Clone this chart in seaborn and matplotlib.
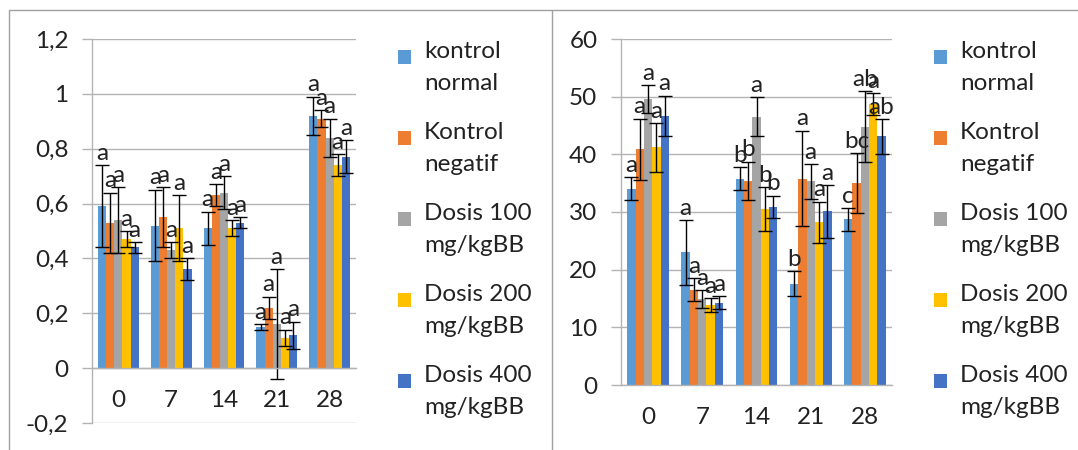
import numpy as np
import pandas as pd
import matplotlib
matplotlib.use("Agg")
import matplotlib.pyplot as plt
import seaborn as sns
from matplotlib.lines import Line2D
from matplotlib.patches import Rectangle
from matplotlib.legend_handler import HandlerPatch

# Data
days = ["0", "7", "14", "21", "28"]
groups = ["kontrol\nnormal", "Kontrol\nnegatif", "Dosis 100\nmg/kgBB",
          "Dosis 200\nmg/kgBB", "Dosis 400\nmg/kgBB"]
colors = ["#5B9BD5", "#ED7D31", "#A5A5A5", "#FFC000", "#4472C4"]

# left chart (mean, sd, letter) per group over days
left_mean = [[0.59, 0.52, 0.51, 0.15, 0.92],
             [0.53, 0.55, 0.63, 0.22, 0.91],
             [0.54, 0.43, 0.64, 0.16, 0.84],
             [0.47, 0.51, 0.51, 0.11, 0.74],
             [0.44, 0.36, 0.53, 0.12, 0.77]]
left_sd = [[0.15, 0.13, 0.06, 0.01, 0.07],
           [0.11, 0.11, 0.04, 0.04, 0.03],
           [0.12, 0.03, 0.06, 0.20, 0.07],
           [0.03, 0.12, 0.03, 0.03, 0.04],
           [0.02, 0.04, 0.02, 0.05, 0.06]]
left_letters = [["a"] * 5 for _ in range(5)]

# right chart
right_mean = [[34.0, 23.0, 35.8, 17.6, 28.7],
              [40.9, 16.5, 35.4, 35.8, 35.0],
              [49.6, 14.9, 46.5, 35.3, 44.8],
              [41.2, 13.9, 30.5, 28.2, 48.7],
              [46.7, 14.3, 30.9, 30.1, 43.1]]
right_sd = [[2.0, 5.6, 2.0, 2.1, 2.0],
            [5.3, 2.0, 3.3, 8.3, 5.2],
            [2.4, 1.5, 3.4, 3.0, 6.2],
            [4.2, 1.2, 3.8, 3.6, 1.9],
            [3.5, 1.1, 1.9, 4.6, 3.0]]
right_letters = [["a", "a", "b", "b", "c"],
                 ["a", "a", "b", "a", "bc"],
                 ["a", "a", "a", "a", "ab"],
                 ["a", "a", "b", "a", "a"],
                 ["a", "a", "b", "a", "ab"]]

sns.set_style("white")
plt.rcParams["font.family"] = ["Lato", "DejaVu Sans"]
FS = 17.5
TXT = "#222222"
GRID = "#b3b3b3"


def make_df(mean, sd, letters):
    rows = []
    for i, g in enumerate(groups):
        for j, d in enumerate(days):
            rows.append([g, d, mean[i][j], sd[i][j], letters[i][j]])
    return pd.DataFrame(rows, columns=["kelompok", "hari", "nilai", "sd", "huruf"])


def draw(ax, df, ylim, yticks, fmt):
    sns.barplot(data=df, x="hari", y="nilai", hue="kelompok", order=days,
                hue_order=groups, palette=colors, errorbar=None, width=0.77,
                saturation=1, linewidth=0, legend=False, ax=ax)
    bar_sets = list(ax.containers)
    for i, cont in enumerate(bar_sets):
        sub = df[df["kelompok"] == groups[i]].reset_index(drop=True)
        for j, bar in enumerate(cont):
            x = bar.get_x() + bar.get_width() / 2
            h = bar.get_height()
            e = sub.loc[j, "sd"]
            ax.errorbar(x, h, yerr=e, color="black", capsize=5, elinewidth=1,
                        capthick=1)
            ax.annotate(sub.loc[j, "huruf"], (x, h + e), xytext=(0, 1),
                        textcoords="offset points", ha="center", va="bottom",
                        fontsize=FS, color=TXT)
    ax.set_ylim(*ylim)
    ax.set_xlim(-0.5, 4.5)
    ax.set_yticks(yticks)
    ax.set_yticklabels([fmt(v) for v in yticks])
    ax.set_xticks(np.arange(-0.5, 5, 1), minor=True)
    ax.yaxis.grid(True, color=GRID, lw=1)
    ax.set_axisbelow(True)
    for s in ["top", "right"]:
        ax.spines[s].set_visible(False)
    for s in ["left", "bottom"]:
        ax.spines[s].set_color(GRID)
        ax.spines[s].set_linewidth(1)
    ax.spines["bottom"].set_position(("data", 0))
    ax.tick_params(axis="x", which="major", length=0, pad=16, labelsize=FS,
                   labelcolor=TXT)
    ax.tick_params(axis="x", which="minor", length=5, color=GRID, width=1)
    ax.tick_params(axis="y", length=7, color=GRID, width=1, pad=10,
                   labelsize=FS, labelcolor=TXT, left=True)
    ax.set_xlabel("")
    ax.set_ylabel("")


fig = plt.figure(figsize=(10.78, 4.5), dpi=100)
ax1 = fig.add_axes([92 / 1078, 1 - 423 / 450, 264 / 1078, 384 / 450])
ax2 = fig.add_axes([621 / 1078, 1 - 385 / 450, 271 / 1078, 346 / 450])

draw(ax1, make_df(left_mean, left_sd, left_letters), (-0.2, 1.2),
     np.round(np.arange(-0.2, 1.21, 0.2), 1),
     lambda v: ("%g" % v).replace(".", ","))
draw(ax2, make_df(right_mean, right_sd, right_letters), (0, 60),
     np.arange(0, 61, 10), lambda v: "%d" % v)


def top_square(legend, orig_handle, xdescent, ydescent, width, height, fontsize):
    s = 0.55 * fontsize
    return Rectangle((-xdescent, -ydescent + height - s - 0.15 * fontsize), s, s)


for ax, xa in [(ax1, 398), (ax2, 934)]:
    handles = [Rectangle((0, 0), 1, 1, facecolor=c, edgecolor="none") for c in colors]
    leg = fig.legend(handles, groups, loc="upper left",
                     bbox_to_anchor=(xa / 1078, 1 - 41 / 450), frameon=False,
                     fontsize=FS, handlelength=0.62, handleheight=2.4,
                     handletextpad=0.45, labelspacing=1.15, borderpad=0,
                     borderaxespad=0,
                     handler_map={Rectangle: HandlerPatch(patch_func=top_square)})
    for t in leg.get_texts():
        t.set_linespacing(1.65)
        t.set_color(TXT)

# frame lines around the two panels
frame = "#a0a0a0"
fig.add_artist(Line2D([9 / 1078, 1], [1 - 9.5 / 450] * 2, color=frame, lw=1))
fig.add_artist(Line2D([9 / 1078] * 2, [0, 1 - 9.5 / 450], color=frame, lw=1))
fig.add_artist(Line2D([552 / 1078] * 2, [0, 1 - 9.5 / 450], color=frame, lw=1))

fig.savefig("out.png", dpi=100)
